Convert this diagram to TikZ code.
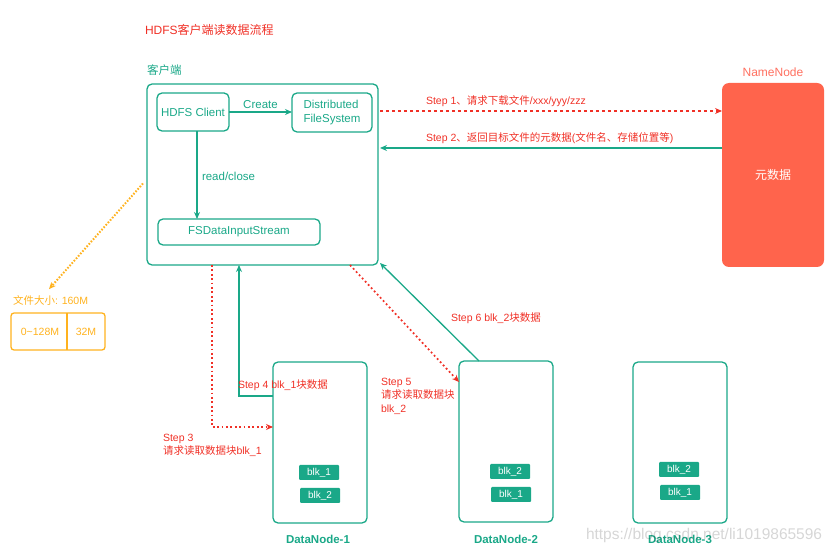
\documentclass[tikz,border=0pt]{standalone}
\usepackage{fontspec}
\setmainfont{Liberation Sans}
\newfontfamily\cjk{Noto Sans CJK SC}
\newcommand\zh[1]{{\cjk #1}}
\usetikzlibrary{arrows.meta,calc}
\definecolor{teal1}{RGB}{26,168,136}
\definecolor{stepred}{RGB}{240,48,38}
\definecolor{nnred}{RGB}{255,100,76}
\definecolor{nnlabel}{RGB}{255,112,96}
\definecolor{orng}{RGB}{255,178,30}
\tikzset{
  fs/.style={font=\fontsize{#1}{13.5}\selectfont},
  box/.style={draw=teal1, line width=1.3pt, rounded corners=5pt, anchor=north west},
  blk/.style={fill=teal1, rounded corners=1pt, text=white, minimum width=40pt, minimum height=15pt, anchor=north west, fs=10},
  tarrow/.style={draw=teal1, line width=1.3pt, -{Stealth[length=7pt,width=6pt]}},
  rdash/.style={draw=stepred, line width=1.3pt, dash pattern=on 3pt off 3pt, -{Stealth[length=7pt,width=6pt]}},
  rdot/.style={draw=stepred, line width=1.7pt, dash pattern=on 1.8pt off 2.6pt, -{Stealth[length=7pt,width=6pt]}},
  steplbl/.style={text=stepred, fs=10.5, anchor=west},
  dnlbl/.style={text=teal1, font=\fontsize{11.5}{14}\selectfont\bfseries},
}
\begin{document}
\begin{tikzpicture}[x=1pt,y=-1pt, every node/.style={inner sep=0pt,outer sep=0pt}]
\useasboundingbox (0,0) rectangle (839,553);

% title
\node[anchor=west, text=stepred, fs=12] (title) at (145,30) {HDFS\zh{客户端读数据流程}};

% client
\node[anchor=west, text=teal1, fs=11.5] (clientlbl) at (147,70) {\zh{客户端}};
\node[box, minimum width=231pt, minimum height=181pt] (client) at (147,84) {};
\node[box, minimum width=72pt, minimum height=38pt, text=teal1, fs=11.5] (hc) at (157,93) {HDFS Client};
\node[box, minimum width=80pt, minimum height=39pt, text=teal1, fs=11.5, align=left] (dfs) at (292,93) {Distributed\\FileSystem};
\node[box, minimum width=162pt, minimum height=26pt, text=teal1, fs=11.5] (fsd) at (158,219) {FSDataInputStream};

\draw[tarrow] (hc.east) -- node[above=3pt, text=teal1, fs=11.5] (create) {Create} (hc.east -| dfs.west);
\draw[tarrow] ($(hc.south west)+(40,0)$) -- node[pos=0.52, right=5pt, text=teal1, fs=11.5] (rc) {read/close} ($(fsd.north west)+(39,0)$);

% NameNode
\node[fill=nnred, rounded corners=7pt, minimum width=102pt, minimum height=184pt, anchor=north west, text=white, fs=12] (nn) at (722,83) {\zh{元数据}};
\node[text=nnlabel, fs=12] (nnlbl) at (773,72) {NameNode};

% Step 1 / 2
\draw[rdash] ($(client.north east)+(2,27)$) -- ($(nn.north west)+(0,28)$);
\node[steplbl] (s1) at (426,101) {Step 1\zh{、请求下载文件}/xxx/yyy/zzz};
\draw[tarrow] ($(nn.north west)+(0,65)$) -- ($(client.north east)+(2,64)$);
\node[steplbl] (s2) at (426,138) {Step 2\zh{、返回目标文件的元数据}(\zh{文件名、存储位置等})};

% file size
\node[anchor=west, text=orng, fs=10.5] (fslbl) at (13,300) {\zh{文件大小}: 160M};
\node[draw=orng, line width=1.3pt, rounded corners=3pt, minimum width=94pt, minimum height=37pt, anchor=north west] (fbox) at (11,313) {};
\draw[orng, line width=1.3pt] ($(fbox.north west)+(56,0)$) -- ($(fbox.south west)+(56,0)$);
\node[text=orng, fs=10.5] (f1) at (40,331.5) {0\textasciitilde128M};
\node[text=orng, fs=10.5] (f2) at (86,331.5) {32M};
\draw[orng, line width=2pt, dash pattern=on 1.6pt off 1.6pt, -{Stealth[length=7pt,width=6pt]}] ($(client.west)+(-4,9)$) -- ($(fslbl.north west)+(36,-6)$);

% DataNodes
\node[box, minimum width=94pt, minimum height=161pt] (dn1) at (273,362) {};
\node[box, minimum width=94pt, minimum height=161pt] (dn2) at (459,361) {};
\node[box, minimum width=94pt, minimum height=161pt] (dn3) at (633,362) {};
\node[dnlbl] (dn1l) at (318,539) {DataNode-1};
\node[dnlbl] (dn2l) at (506,539) {DataNode-2};
\node[dnlbl] (dn3l) at (680,539) {DataNode-3};

\node[blk] (b11) at (299,465) {blk\_1};
\node[blk] (b12) at (300,488) {blk\_2};
\node[blk] (b22) at (490,464) {blk\_2};
\node[blk] (b21) at (491,487) {blk\_1};
\node[blk] (b32) at (659,462) {blk\_2};
\node[blk] (b31) at (660,485) {blk\_1};

% Step 3
\draw[rdot] ($(client.south west)+(65,0)$) |- ($(dn1.north west)+(0,65)$);
\node[text=stepred, fs=10.5, anchor=north west, align=left] (s3) at (163,434) {Step 3\\\zh{请求读取数据块}blk\_1};
% Step 4
\draw[tarrow] ($(dn1.north west)+(0,34)$) -| ($(client.south west)+(92,0)$);
\node[steplbl] (s4) at (238,385) {Step 4 blk\_1\zh{块数据}};
% Step 5
\draw[rdot] ($(client.south west)+(203,0)$) -- ($(dn2.north west)+(0,21)$);
\node[text=stepred, fs=10.5, anchor=north west, align=left] (s5) at (381,378) {Step 5\\\zh{请求读取数据块}\\blk\_2};
% Step 6
\draw[tarrow] ($(dn2.north west)+(20,0)$) -- ($(client.south east)+(2,-2)$);
\node[steplbl] (s6) at (451,318) {Step 6 blk\_2\zh{块数据}};

% watermark
\node[anchor=west, text=black, opacity=0.16, fs=15.5] (wm) at (586,535) {https://blog.csdn.net/li1019865596};
\end{tikzpicture}
\end{document}
